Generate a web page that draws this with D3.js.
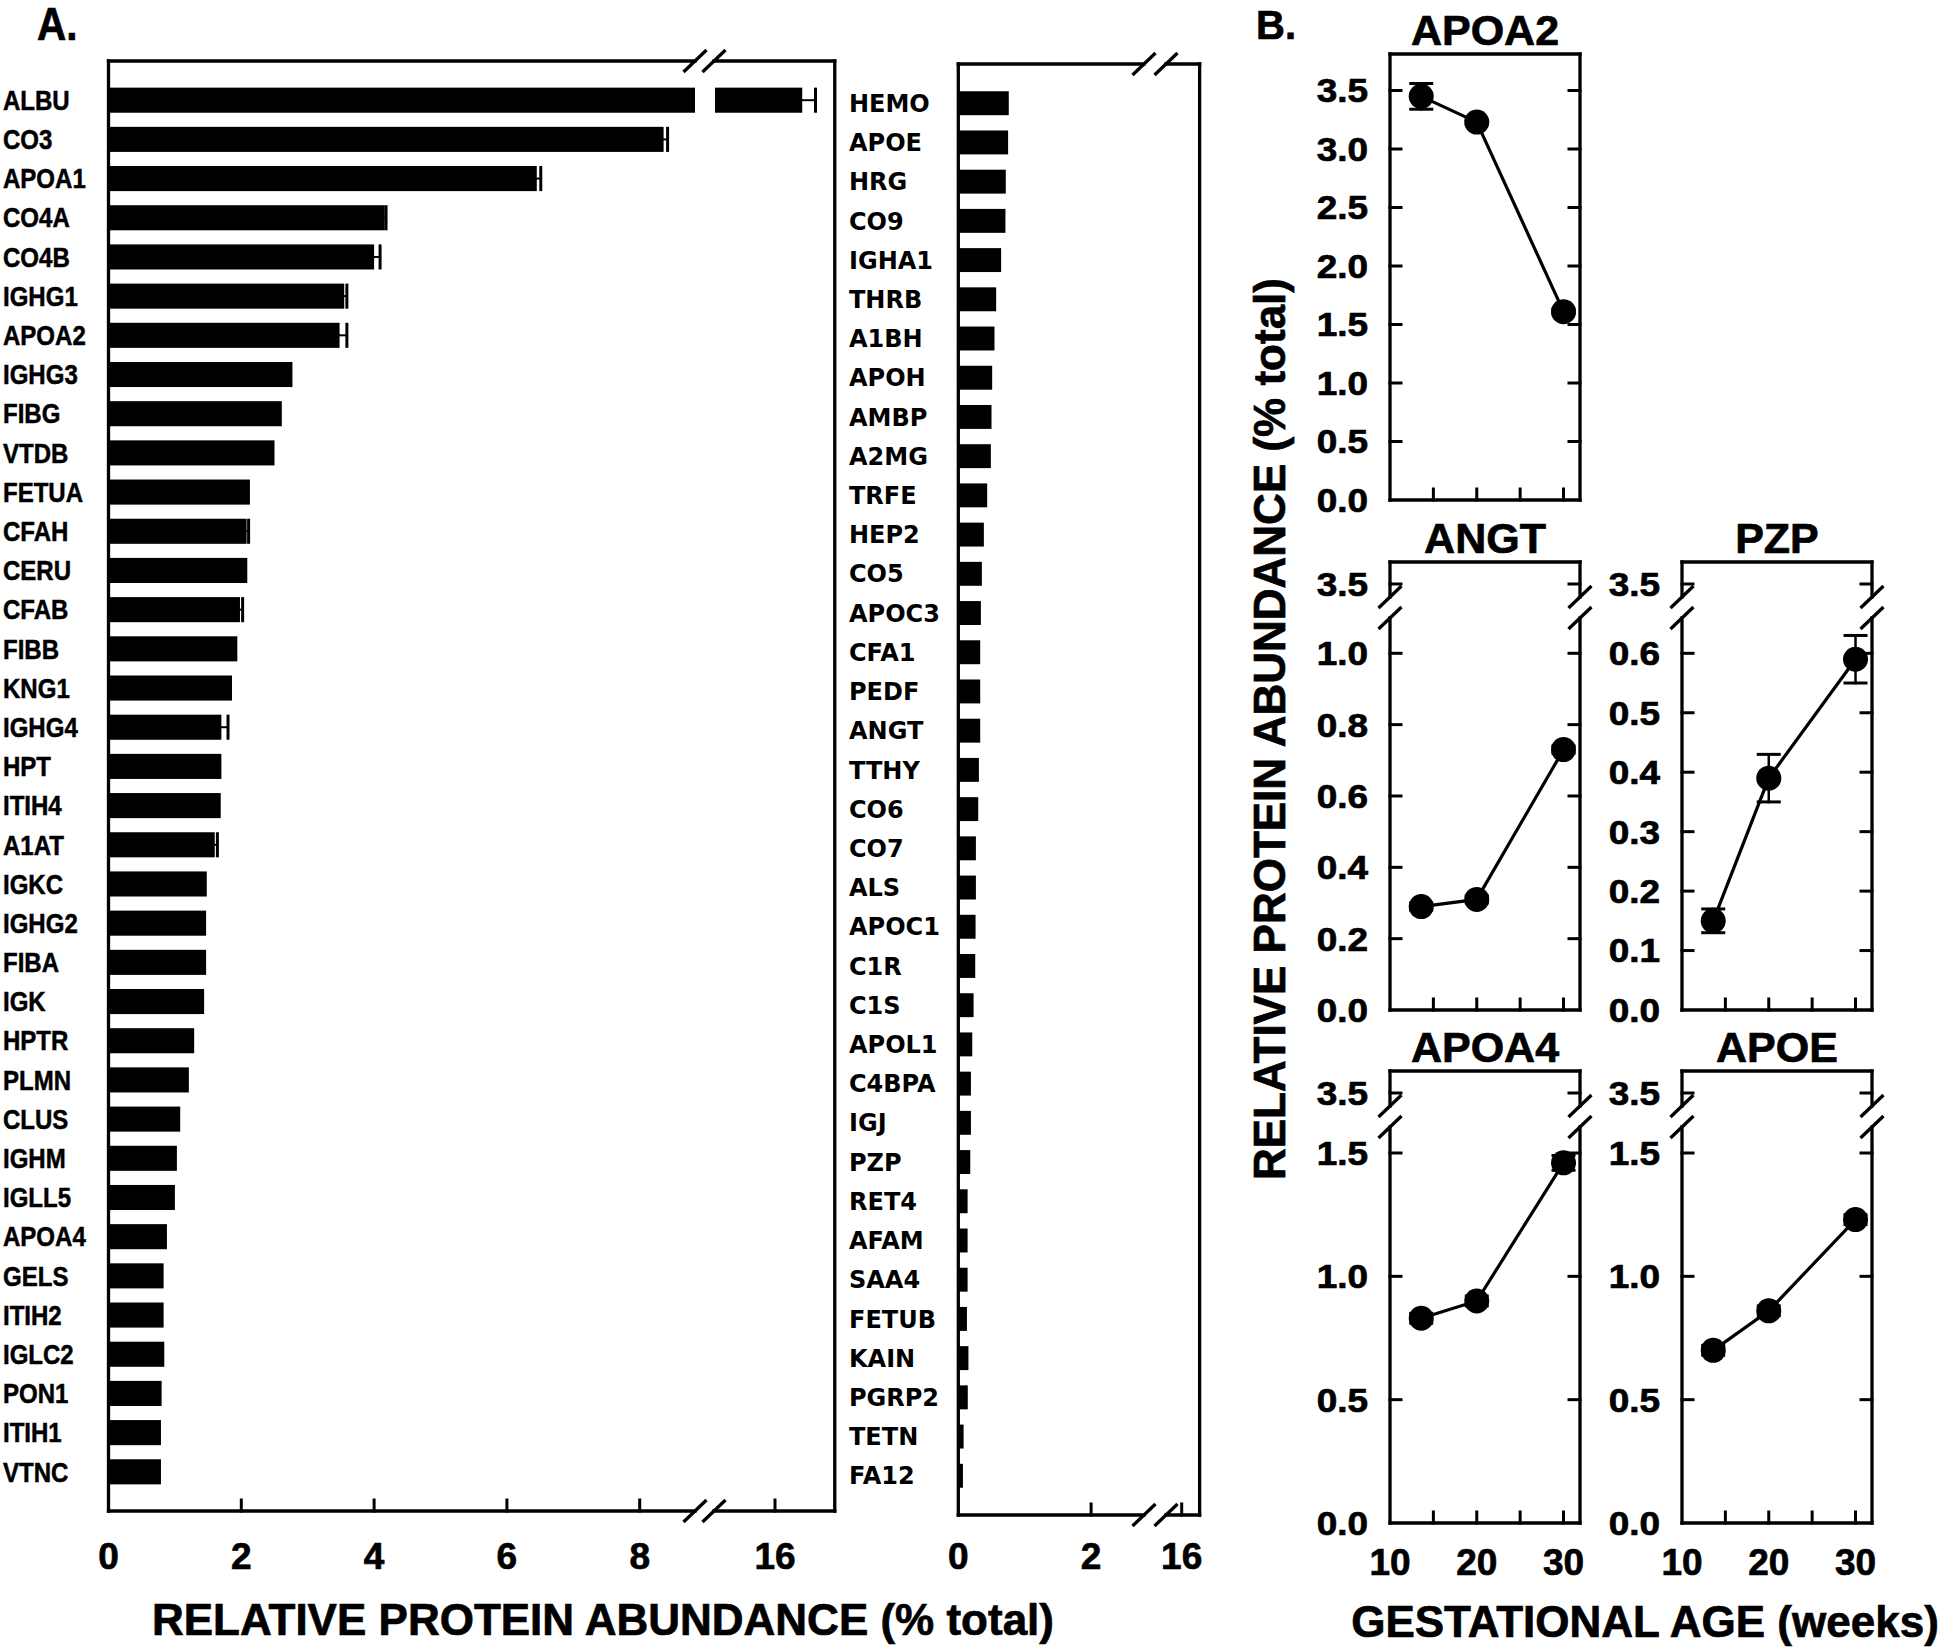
<!DOCTYPE html>
<html><head><meta charset="utf-8">
<script src="https://cdn.jsdelivr.net/npm/d3@7"></script>
<style>
body{margin:0;background:#fff}
svg{display:block}
text{font-family:"Liberation Sans",Arial,sans-serif;font-weight:bold;fill:#000}
text.heavy{stroke:#000;stroke-width:0.7px}
</style>
</head><body>
<svg id="chart" width="1944" height="1652"></svg>
<script>
// ---------------- DATA ----------------
const leftCategories = ["ALBU","CO3","APOA1","CO4A","CO4B","IGHG1","APOA2","IGHG3","FIBG","VTDB","FETUA","CFAH","CERU","CFAB","FIBB","KNG1","IGHG4","HPT","ITIH4","A1AT","IGKC","IGHG2","FIBA","IGK","HPTR","PLMN","CLUS","IGHM","IGLL5","APOA4","GELS","ITIH2","IGLC2","PON1","ITIH1","VTNC"];
const leftValues = [16.41,8.36,6.45,4.16,4.00,3.55,3.48,2.77,2.61,2.50,2.13,2.08,2.09,1.98,1.94,1.86,1.70,1.70,1.69,1.60,1.48,1.47,1.47,1.44,1.29,1.21,1.08,1.03,1.00,0.88,0.83,0.83,0.84,0.80,0.79,0.79];
const leftErrors = [0.20,0.06,0.06,0.02,0.09,0.04,0.11,0,0,0,0,0.03,0,0.04,0,0,0.10,0,0,0.04,0,0,0,0,0,0,0,0,0,0,0,0,0,0,0,0];

const rightCategories = ["HEMO","APOE","HRG","CO9","IGHA1","THRB","A1BH","APOH","AMBP","A2MG","TRFE","HEP2","CO5","APOC3","CFA1","PEDF","ANGT","TTHY","CO6","CO7","ALS","APOC1","C1R","C1S","APOL1","C4BPA","IGJ","PZP","RET4","AFAM","SAA4","FETUB","KAIN","PGRP2","TETN","FA12"];
const rightValues = [0.76,0.75,0.715,0.71,0.645,0.57,0.545,0.51,0.50,0.49,0.435,0.385,0.355,0.34,0.33,0.33,0.33,0.31,0.30,0.265,0.265,0.26,0.255,0.23,0.21,0.19,0.19,0.18,0.14,0.14,0.14,0.13,0.12,0.11,0.08,0.07];
const rightErrors = [0,0,0,0,0,0,0,0,0,0,0,0,0,0,0,0,0,0,0,0,0,0,0,0,0,0,0,0,0,0,0,0,0.01,0.01,0,0];

const leftTicks = [0,2,4,6,8,16];
const rightTicks = [0,2,16];

const weeks = [13.6,20,30];
const weekTicks = [15,20,25,30];
const weekLabels = [10,20,30];
const apoa2Values = [3.45,3.23,1.61];
const apoa2Errors = [0.11,0.02,0.02];
const angtValues = [0.29,0.31,0.73];
const angtErrors = [0.01,0.01,0.01];
const pzpValues = [0.15,0.39,0.59];
const pzpErrors = [0.02,0.04,0.04];
const apoa4Values = [0.83,0.90,1.46];
const apoa4Errors = [0.02,0.02,0.03];
const apoeValues = [0.70,0.86,1.23];
const apoeErrors = [0.02,0.02,0.02];
const apoa2Ticks = [0,0.5,1.0,1.5,2.0,2.5,3.0,3.5];
const angtTicks = [0,0.2,0.4,0.6,0.8,1.0];
const pzpTicks = [0,0.1,0.2,0.3,0.4,0.5,0.6];
const apoa4Ticks = [0,0.5,1.0,1.5];
const apoeTicks = [0,0.5,1.0,1.5];
const upperTick = 3.5;

// ---------------- DRAW ----------------
const svg = d3.select("#chart");
svg.append("rect").attr("width",1944).attr("height",1652).attr("fill","#fff");
const SW = 3.3;

function line(g,x1,y1,x2,y2,w){
  g.append("line").attr("x1",x1).attr("y1",y1).attr("x2",x2).attr("y2",y2)
   .attr("stroke","#000").attr("stroke-width",w||SW).attr("stroke-linecap","square");
}
function slash(g,cx,cy){
  g.append("line").attr("x1",cx-11.5).attr("y1",cy+11).attr("x2",cx+11.5).attr("y2",cy-11)
   .attr("stroke","#000").attr("stroke-width",SW);
}

// ----- Panel A bar charts -----
function barChart(cfg){
  const g = svg.append("g");
  const x1 = d3.scaleLinear().domain([0,cfg.breakLow]).range([cfg.left, cfg.left+cfg.breakLow*66.4]);
  const x2 = d3.scaleLinear().domain([cfg.hiStart, cfg.hiEnd]).range([cfg.hiX - (cfg.hiTick-cfg.hiStart)*66.4, cfg.hiX + (cfg.hiEnd-cfg.hiTick)*66.4]);
  const xs = v => v <= cfg.breakLow ? x1(v) : x2(v);
  const right = x2(cfg.hiEnd);
  const y = d3.scaleBand().domain(cfg.cats).range([cfg.top, cfg.bottom])
     .paddingInner(cfg.pin).paddingOuter((1+cfg.pin)/2);

  cfg.cats.forEach((c,i)=>{
    const v = cfg.vals[i], e = cfg.errs[i];
    const yy = y(c), bh = y.bandwidth();
    if (v > cfg.breakLow){
      g.append("rect").attr("x",x1(0)).attr("y",yy).attr("width",cfg.gapL - x1(0)).attr("height",bh).attr("fill","#000");
      g.append("rect").attr("x",cfg.gapR).attr("y",yy).attr("width",xs(v)-cfg.gapR).attr("height",bh).attr("fill","#000");
    } else {
      g.append("rect").attr("x",x1(0)).attr("y",yy).attr("width",x1(v)-x1(0)).attr("height",bh).attr("fill","#000");
    }
    if (e > 0){
      const xe = xs(v+e);
      line(g, xs(v), yy+bh/2, xe, yy+bh/2, 2);
      line(g, xe, yy+1.5, xe, yy+bh-1.5, 3);
    }
    const t = g.append("text").attr("transform",`translate(${cfg.labelX},${yy+bh/2}) scale(${cfg.labelScale},1)`)
      .attr("dy","0.36em").attr("font-size",cfg.labelSize).text(c);
    if (cfg.labelFont) t.style("font-family",cfg.labelFont);
    else t.attr("class","heavy").style("stroke-width","0.5px");
  });

  line(g, cfg.left, cfg.top, cfg.left, cfg.bottom);
  line(g, right, cfg.top, right, cfg.bottom);
  line(g, cfg.left, cfg.top, cfg.s1, cfg.top);
  line(g, cfg.s2, cfg.top, right, cfg.top);
  line(g, cfg.left, cfg.bottom, cfg.s1, cfg.bottom);
  line(g, cfg.s2, cfg.bottom, right, cfg.bottom);
  [cfg.s1,cfg.s2].forEach(sx=>{ slash(g,sx,cfg.top); slash(g,sx,cfg.bottom); });

  cfg.ticks.forEach(t=>{
    const tx = xs(t);
    if (t>0) line(g, tx, cfg.bottom, tx, cfg.bottom-11, 3);
    g.append("text").attr("class","heavy").attr("x",tx).attr("y",1569).attr("text-anchor","middle").attr("font-size",37).text(t);
  });
}

barChart({cats:leftCategories, vals:leftValues, errs:leftErrors, left:108.5, top:61, bottom:1511,
  breakLow:9, hiStart:15, hiEnd:16.9, hiTick:16, hiX:775, gapL:695, gapR:715, s1:695, s2:714,
  pin:0.36, ticks:leftTicks, labelX:3, labelScale:0.89, labelSize:27});

barChart({cats:rightCategories, vals:rightValues, errs:rightErrors, left:958.3, top:64, bottom:1515,
  breakLow:3, hiStart:15.5, hiEnd:16.27, hiTick:16, hiX:1181.7, gapL:1140, gapR:1170, s1:1144, s2:1166,
  pin:0.39, ticks:rightTicks, labelX:849, labelScale:1, labelSize:24, labelFont:"'DejaVu Sans',Verdana,sans-serif"});

svg.append("text").attr("class","heavy").attr("transform","translate(37,40) scale(0.88,1)").attr("font-size",46).text("A.");
svg.append("text").attr("class","heavy").attr("x",603).attr("y",1635).attr("text-anchor","middle").attr("font-size",44)
  .text("RELATIVE PROTEIN ABUNDANCE (% total)");

// ----- Panel B -----
function panelB(cfg){
  const g = svg.append("g");
  const x = d3.scaleLinear().domain([10,31.9]).range([cfg.left, cfg.right]);
  const yLow = d3.scaleLinear().domain([0,cfg.lowMax]).range([cfg.bottom, cfg.lowMaxY]);
  const yUp = d3.scaleLinear().domain([3.38,3.62]).range([cfg.top+44, cfg.top]);
  const y = v => (cfg.broken && v > cfg.lowMax*1.2) ? yUp(v) : yLow(v);

  line(g, cfg.left, cfg.top, cfg.right, cfg.top);
  line(g, cfg.left, cfg.bottom, cfg.right, cfg.bottom);
  [cfg.left, cfg.right].forEach(ex=>{
    if (cfg.broken){
      line(g, ex, cfg.top, ex, cfg.top+35);
      line(g, ex, cfg.top+56, ex, cfg.bottom);
      slash(g, ex, cfg.top+35); slash(g, ex, cfg.top+56);
    } else line(g, ex, cfg.top, ex, cfg.bottom);
  });

  const tv = cfg.ticks.slice();
  if (cfg.broken) tv.push(upperTick);
  tv.forEach(t=>{
    const ty = y(t);
    if (t>0){
      line(g, cfg.left, ty, cfg.left+11, ty, 3);
      line(g, cfg.right-11, ty, cfg.right, ty, 3);
    }
    g.append("text").attr("class","heavy").attr("transform",`translate(${cfg.left-22},${ty}) scale(1.12,1)`)
      .attr("text-anchor","end").attr("dy","0.36em").attr("font-size",33).text(d3.format(".1f")(t));
  });
  weekTicks.forEach(t=> line(g, x(t), cfg.bottom, x(t), cfg.bottom-11, 3));
  if (cfg.xLabels){
    weekLabels.forEach(t=> g.append("text").attr("class","heavy").attr("x",x(t)).attr("y",cfg.bottom+51.5)
      .attr("text-anchor","middle").attr("font-size",37).text(t));
  }
  g.append("text").attr("class","heavy").attr("x",(cfg.left+cfg.right)/2).attr("y",cfg.top-9).attr("text-anchor","middle")
    .attr("font-size",43).text(cfg.title);

  const pts = weeks.map((w,i)=>[x(w), y(cfg.vals[i])]);
  g.append("path").attr("d", d3.line()(pts)).attr("fill","none").attr("stroke","#000").attr("stroke-width",3.2);
  weeks.forEach((w,i)=>{
    const e = cfg.errs[i], v = cfg.vals[i], cx = x(w);
    line(g, cx, y(v+e), cx, y(v-e), 2.5);
    line(g, cx-10.5, y(v+e), cx+10.5, y(v+e), 3);
    line(g, cx-10.5, y(v-e), cx+10.5, y(v-e), 3);
  });
  g.selectAll("circle.pt").data(pts).join("circle").attr("class","pt")
    .attr("cx",d=>d[0]).attr("cy",d=>d[1]).attr("r",12.5).attr("fill","#000");
}

panelB({title:"APOA2", vals:apoa2Values, errs:apoa2Errors, ticks:apoa2Ticks, left:1390, right:1580, top:54, bottom:500, lowMax:3.5, lowMaxY:90.5, broken:false});
panelB({title:"ANGT", vals:angtValues, errs:angtErrors, ticks:angtTicks, left:1390, right:1580, top:562, bottom:1010, lowMax:1.0, lowMaxY:653.3, broken:true});
panelB({title:"PZP", vals:pzpValues, errs:pzpErrors, ticks:pzpTicks, left:1682, right:1872, top:562, bottom:1010, lowMax:0.6, lowMaxY:653.3, broken:true});
panelB({title:"APOA4", vals:apoa4Values, errs:apoa4Errors, ticks:apoa4Ticks, left:1390, right:1580, top:1071, bottom:1523, lowMax:1.5, lowMaxY:1153, broken:true, xLabels:true});
panelB({title:"APOE", vals:apoeValues, errs:apoeErrors, ticks:apoeTicks, left:1682, right:1872, top:1071, bottom:1523, lowMax:1.5, lowMaxY:1153, broken:true, xLabels:true});

svg.append("text").attr("class","heavy").attr("x",1256).attr("y",39).attr("font-size",40).text("B.");
svg.append("text").attr("class","heavy").attr("transform","translate(1285,729) rotate(-90)").attr("text-anchor","middle")
  .attr("font-size",44).text("RELATIVE PROTEIN ABUNDANCE (% total)");
svg.append("text").attr("class","heavy").attr("x",1645).attr("y",1637).attr("text-anchor","middle").attr("font-size",44)
  .text("GESTATIONAL AGE (weeks)");
</script>
</body></html>
